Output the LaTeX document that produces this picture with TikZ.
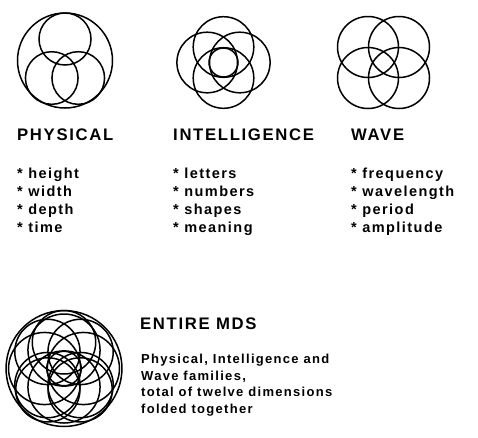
\documentclass[tikz,border=0pt]{standalone}
\usepackage{fontspec}
\newfontfamily\mfont{Liberation Sans}[LetterSpace=10]
\tikzset{
  ring/.style={draw=black, line width=1.5pt},
  ttl/.style={anchor=base west, inner sep=0pt, font=\mfont\bfseries\fontsize{16.7}{20}\selectfont},
  itm/.style={anchor=base west, inner sep=0pt, font=\mfont\bfseries\fontsize{14.5}{18}\selectfont},
  par/.style={anchor=base west, inner sep=0pt, font=\mfont\bfseries\fontsize{13}{16}\selectfont},
  physical/.pic={
    \draw[ring] (0,0) circle[radius=47.5pt];
    \draw[ring] (0,-21.5) circle[radius=26pt];
    \draw[ring] (-13.25,17.5) circle[radius=26.3pt];
    \draw[ring] (13.25,17.5) circle[radius=26.3pt];
  },
  intelligence/.pic={
    \draw[ring] (0,0) circle[radius=14.5pt];
    \draw[ring] (-16.3,0) circle[radius=30.3pt];
    \draw[ring] (16.3,0) circle[radius=30.3pt];
    \draw[ring] (0,-15.5) circle[radius=30.3pt];
    \draw[ring] (0,15.5) circle[radius=30.3pt];
  },
  wave/.pic={
    \draw[ring] (-15.5,-15.5) circle[radius=30.5pt];
    \draw[ring] (15.5,-15.5) circle[radius=30.5pt];
    \draw[ring] (-15.5,15.5) circle[radius=30.5pt];
    \draw[ring] (15.5,15.5) circle[radius=30.5pt];
  }
}
\begin{document}
\begin{tikzpicture}[x=1pt,y=-1pt]
\useasboundingbox (0,0) rectangle (478,437);
% motifs
\pic at (65,60.5) {physical};
\pic at (223.5,62.5) {intelligence};
\pic at (383.5,62.5) {wave};
% combined
\pic[scale=1.22] at (64,368.5) {physical};
\pic[scale=1.19] at (64,368.5) {intelligence};
\pic[scale=1.07] at (64,368.5) {wave};
% titles
\node[ttl] (tphys) at (17,140) {PHYSICAL};
\node[ttl] (tint) at (173,140) {INTELLIGENCE};
\node[ttl] (twave) at (351,140) {WAVE};
% lists
\node[itm] (p1) at (17,178) {* height};
\node[itm] (p2) at (17,196) {* width};
\node[itm] (p3) at (17,214) {* depth};
\node[itm] (p4) at (17,232) {* time};
\node[itm] (i1) at (173,178) {* letters};
\node[itm] (i2) at (173,196) {* numbers};
\node[itm] (i3) at (173,214) {* shapes};
\node[itm] (i4) at (173,232) {* meaning};
\node[itm] (w1) at (351,178) {* frequency};
\node[itm] (w2) at (351,196) {* wavelength};
\node[itm] (w3) at (351,214) {* period};
\node[itm] (w4) at (351,232) {* amplitude};
% entire
\node[ttl] (tent) at (140,329) {ENTIRE MDS};
\node[par] (e1) at (141,363.5) {Physical, Intelligence and};
\node[par] (e2) at (141,380) {Wave families,};
\node[par] (e3) at (141,396.5) {total of twelve dimensions};
\node[par] (e4) at (141,413) {folded together};
\end{tikzpicture}
\end{document}
